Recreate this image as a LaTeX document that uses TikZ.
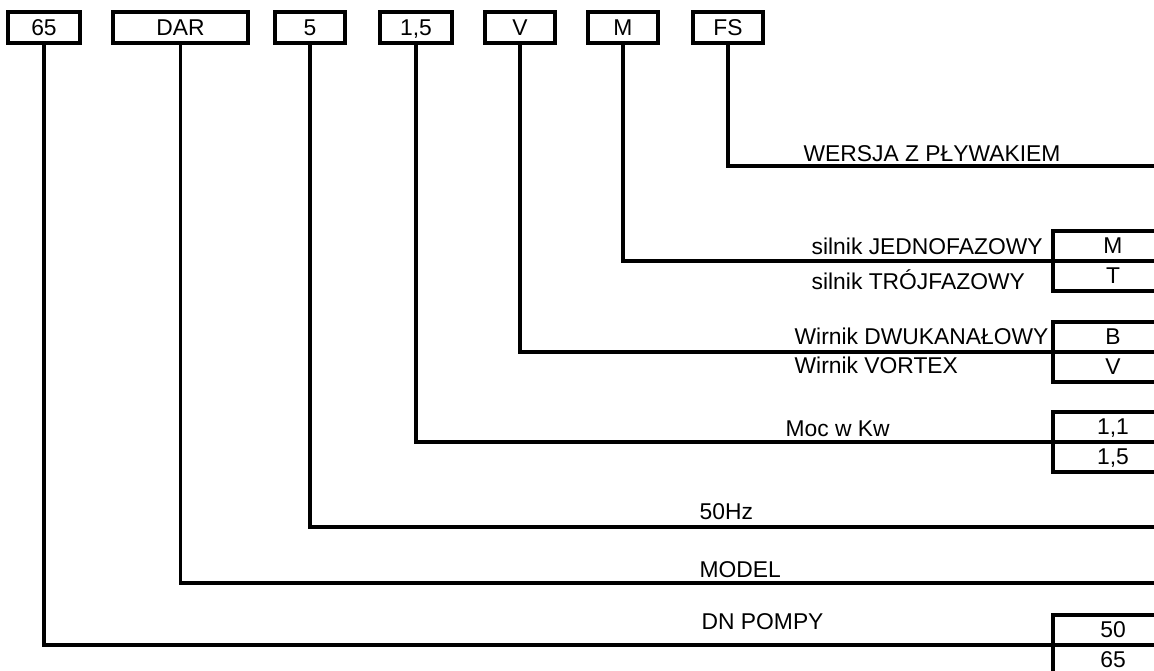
\documentclass[tikz,border=0pt]{standalone}
\usepackage{fontspec}
\setmainfont{Liberation Sans}

\begin{document}
\begin{tikzpicture}[x=0.02cm,y=-0.02cm,line width=1.9pt,font=\fontsize{13}{15}\selectfont,
  codebox/.style={draw,minimum height=0.62cm,inner sep=0pt,text height=0.92em,text depth=0pt},
  optbox/.style={draw,minimum height=0.6cm,minimum width=2.4cm,inner sep=0pt,text height=0.85em,text depth=0pt},
  lbl/.style={anchor=base west,inner sep=0pt}]
\useasboundingbox (0,0) rectangle (1154,671);
% code of the pump
\node[codebox,minimum width=1.44cm] (c65) at (44,27.5) {65};
\node[codebox,minimum width=2.7cm] (cDAR) at (180.5,27.5) {DAR};
\node[codebox,minimum width=1.4cm] (c5) at (310,27.5) {5};
\node[codebox,minimum width=1.44cm] (c15) at (416,27.5) {1,5};
\node[codebox,minimum width=1.4cm] (cV) at (520,27.5) {V};
\node[codebox,minimum width=1.4cm] (cM) at (623,27.5) {M};
\node[codebox,minimum width=1.4cm] (cFS) at (728,27.5) {FS};
% ends of the lines at the right edge
\coordinate (eFS) at (1160,166);
\coordinate (eM) at (1160,261);
\coordinate (eV) at (1160,352);
\coordinate (e15) at (1160,442);
\coordinate (e5) at (1160,527);
\coordinate (eDAR) at (1160,583);
\coordinate (e65) at (1160,645);
% option boxes
\node[optbox] (oM) at (1113,246) {M};
\node[optbox] (oT) at (1113,276) {T};
\node[optbox] (oB) at (1113,337) {B};
\node[optbox] (oV) at (1113,367) {V};
\node[optbox] (o11) at (1113,427) {1,1};
\node[optbox] (o15) at (1113,457) {1,5};
\node[optbox] (o50) at (1113,630) {50};
\node[optbox] (o65) at (1113,660) {65};
% connectors
\draw (cFS.south) |- (eFS);
\draw (cM.south) |- (eM);
\draw (cV.south) |- (eV);
\draw (c15.south) |- (e15);
\draw (c5.south) |- (e5);
\draw (cDAR.south) |- (eDAR);
\draw (c65.south) |- (e65);
% labels
\node[lbl] (tFS) at (802,162) {WERSJA Z PŁYWAKIEM};
\node[lbl] (tM) at (810,255) {silnik JEDNOFAZOWY};
\node[lbl] (tT) at (810,290) {silnik TRÓJFAZOWY};
\node[lbl] (tB) at (793,345) {Wirnik DWUKANAŁOWY};
\node[lbl] (tV) at (793,374) {Wirnik VORTEX};
\node[lbl] (t15) at (784,437) {Moc w Kw};
\node[lbl] (t5) at (698,520) {50Hz};
\node[lbl] (tDAR) at (698,578) {MODEL};
\node[lbl] (t65) at (700,630) {DN POMPY};
\end{tikzpicture}
\end{document}
